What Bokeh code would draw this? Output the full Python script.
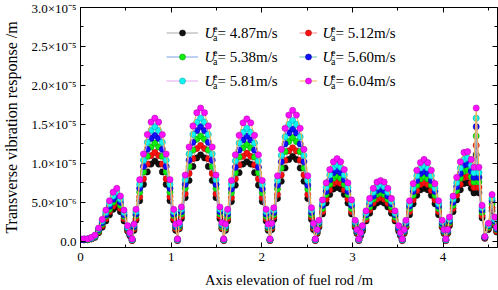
from bokeh.plotting import figure
from bokeh.models import (ColumnDataSource, Range1d, FixedTicker, LinearAxis,
                          Legend, LegendItem, Label)
from bokeh.embed import file_html
from bokeh.resources import INLINE

# ---------------- data (response in units of 1e-6 m) ----------------
x_pos = [0.00, 0.04, 0.08, 0.12,
         0.16, 0.20, 0.24, 0.28, 0.32, 0.36, 0.40, 0.44, 0.48, 0.52, 0.545,
         0.570,
         0.590, 0.612, 0.653, 0.695, 0.737, 0.778, 0.820, 0.862, 0.903, 0.945, 0.987, 1.028, 1.050, 1.070,
         1.090, 1.113, 1.155, 1.198, 1.240, 1.283, 1.325, 1.368, 1.410, 1.453, 1.495, 1.538, 1.560, 1.580,
         1.600, 1.623, 1.665, 1.708, 1.750, 1.793, 1.835, 1.878, 1.920, 1.963, 2.005, 2.048, 2.070, 2.090,
         2.110, 2.132, 2.173, 2.215, 2.257, 2.298, 2.340, 2.382, 2.423, 2.465, 2.507, 2.548, 2.570, 2.590,
         2.61, 2.63, 2.67, 2.71, 2.75, 2.79, 2.83, 2.87, 2.91, 2.95, 2.99, 3.03, 3.05, 3.07,
         3.09, 3.11, 3.15, 3.19, 3.23, 3.27, 3.31, 3.35, 3.39, 3.43, 3.47, 3.51, 3.53, 3.55,
         3.57, 3.59, 3.63, 3.67, 3.71, 3.75, 3.79, 3.83, 3.87, 3.91, 3.95, 3.99, 4.01, 4.03,
         4.05, 4.07, 4.11, 4.15, 4.19, 4.23, 4.27, 4.31, 4.34, 4.365, 4.395, 4.43, 4.46,
         4.50, 4.54, 4.57, 4.59]

u487 = [0.2, 0.2, 0.2, 0.3,
        0.5, 1.1, 1.8, 2.6, 3.4, 4.1, 4.4, 3.8, 2.6, 1.3, 0.7,
        0.1,
        1.4, 2.7, 5.2, 7.3, 8.9, 9.9, 10.3, 9.9, 8.9, 7.3, 5.2, 2.7, 1.4, 0.1,
        1.6, 2.9, 5.6, 7.8, 9.6, 10.7, 11.1, 10.7, 9.6, 7.8, 5.6, 2.9, 1.6, 0.1,
        1.4, 2.6, 5.1, 7.2, 8.8, 9.9, 10.2, 9.9, 8.8, 7.2, 5.1, 2.6, 1.4, 0.1,
        1.5, 2.8, 5.5, 7.7, 9.4, 10.5, 10.9, 10.5, 9.4, 7.7, 5.5, 2.8, 1.5, 0.1,
        1.0, 1.8, 3.5, 4.9, 6.0, 6.7, 6.9, 6.7, 6.0, 4.9, 3.5, 1.8, 1.0, 0.1,
        0.7, 1.3, 2.6, 3.6, 4.4, 4.9, 5.1, 4.9, 4.4, 3.6, 2.6, 1.3, 0.7, 0.1,
        1.0, 1.8, 3.4, 4.8, 5.9, 6.6, 6.8, 6.6, 5.9, 4.8, 3.4, 1.8, 1.0, 0.1,
        1.0, 2.0, 3.8, 5.3, 6.6, 7.4, 7.5, 6.8, 6.2, 11.1, 6.2, 3.0, 0.4, 1.5, 3.9, 2.0, 1.2]

u512 = [0.2, 0.2, 0.2, 0.3,
        0.6, 1.2, 2.0, 2.9, 3.8, 4.5, 4.9, 4.2, 2.9, 1.4, 0.8,
        0.1,
        1.6, 2.9, 5.7, 8.0, 9.9, 11.0, 11.4, 11.0, 9.9, 8.0, 5.7, 2.9, 1.6, 0.1,
        1.7, 3.2, 6.1, 8.7, 10.6, 11.9, 12.3, 11.9, 10.6, 8.7, 6.1, 3.2, 1.7, 0.1,
        1.6, 2.9, 5.6, 8.0, 9.8, 10.9, 11.3, 10.9, 9.8, 8.0, 5.6, 2.9, 1.6, 0.1,
        1.7, 3.1, 6.0, 8.5, 10.4, 11.6, 12.0, 11.6, 10.4, 8.5, 6.0, 3.1, 1.7, 0.1,
        1.1, 2.0, 3.8, 5.4, 6.6, 7.4, 7.6, 7.4, 6.6, 5.4, 3.8, 2.0, 1.1, 0.1,
        0.8, 1.5, 2.8, 4.0, 4.9, 5.4, 5.6, 5.4, 4.9, 4.0, 2.8, 1.5, 0.8, 0.1,
        1.1, 1.9, 3.8, 5.3, 6.5, 7.3, 7.5, 7.3, 6.5, 5.3, 3.8, 1.9, 1.1, 0.1,
        1.1, 2.2, 4.2, 5.9, 7.3, 8.2, 8.3, 7.5, 6.9, 12.3, 6.9, 3.3, 0.4, 1.7, 4.3, 2.2, 1.3]

u538 = [0.2, 0.2, 0.2, 0.4,
        0.6, 1.3, 2.2, 3.2, 4.1, 5.0, 5.4, 4.6, 3.2, 1.6, 0.9,
        0.2,
        1.8, 3.3, 6.3, 8.9, 10.9, 12.1, 12.6, 12.1, 10.9, 8.9, 6.3, 3.3, 1.8, 0.2,
        1.9, 3.5, 6.8, 9.6, 11.7, 13.1, 13.5, 13.1, 11.7, 9.6, 6.8, 3.5, 1.9, 0.2,
        1.7, 3.2, 6.2, 8.8, 10.8, 12.0, 12.4, 12.0, 10.8, 8.8, 6.2, 3.2, 1.7, 0.2,
        1.9, 3.4, 6.7, 9.4, 11.5, 12.8, 13.3, 12.8, 11.5, 9.4, 6.7, 3.4, 1.9, 0.2,
        1.2, 2.2, 4.2, 6.0, 7.3, 8.1, 8.4, 8.1, 7.3, 6.0, 4.2, 2.2, 1.2, 0.2,
        0.9, 1.6, 3.1, 4.4, 5.4, 6.0, 6.2, 6.0, 5.4, 4.4, 3.1, 1.6, 0.9, 0.2,
        1.2, 2.1, 4.2, 5.9, 7.2, 8.0, 8.3, 8.0, 7.2, 5.9, 4.2, 2.1, 1.2, 0.2,
        1.2, 2.4, 4.6, 6.5, 8.1, 9.0, 9.2, 8.3, 7.6, 13.5, 7.6, 3.7, 0.5, 1.8, 4.8, 2.4, 1.5]

u560 = [0.2, 0.2, 0.3, 0.4,
        0.7, 1.5, 2.4, 3.4, 4.5, 5.4, 5.8, 5.0, 3.4, 1.7, 0.9,
        0.2,
        1.9, 3.5, 6.8, 9.6, 11.8, 13.2, 13.6, 13.2, 11.8, 9.6, 6.8, 3.5, 1.9, 0.2,
        2.1, 3.8, 7.3, 10.4, 12.7, 14.2, 14.7, 14.2, 12.7, 10.4, 7.3, 3.8, 2.1, 0.2,
        1.9, 3.5, 6.7, 9.5, 11.7, 13.0, 13.5, 13.0, 11.7, 9.5, 6.7, 3.5, 1.9, 0.2,
        2.0, 3.7, 7.2, 10.2, 12.5, 13.9, 14.4, 13.9, 12.5, 10.2, 7.2, 3.7, 2.0, 0.2,
        1.3, 2.4, 4.6, 6.4, 7.9, 8.8, 9.1, 8.8, 7.9, 6.4, 4.6, 2.4, 1.3, 0.2,
        0.9, 1.7, 3.4, 4.8, 5.8, 6.5, 6.7, 6.5, 5.8, 4.8, 3.4, 1.7, 0.9, 0.2,
        1.3, 2.3, 4.5, 6.4, 7.8, 8.7, 9.0, 8.7, 7.8, 6.4, 4.5, 2.3, 1.3, 0.2,
        1.3, 2.6, 5.0, 7.0, 8.7, 9.8, 9.9, 9.0, 8.2, 14.7, 8.2, 4.0, 0.5, 2.0, 5.2, 2.6, 1.6]

u581 = [0.3, 0.3, 0.3, 0.4,
        0.7, 1.6, 2.6, 3.7, 4.8, 5.8, 6.3, 5.4, 3.7, 1.8, 1.0,
        0.2,
        2.1, 3.8, 7.3, 10.4, 12.7, 14.2, 14.7, 14.2, 12.7, 10.4, 7.3, 3.8, 2.1, 0.2,
        2.2, 4.1, 7.9, 11.2, 13.7, 15.3, 15.8, 15.3, 13.7, 11.2, 7.9, 4.1, 2.2, 0.2,
        2.0, 3.8, 7.3, 10.3, 12.6, 14.0, 14.5, 14.0, 12.6, 10.3, 7.3, 3.8, 2.0, 0.2,
        2.2, 4.0, 7.8, 11.0, 13.4, 15.0, 15.5, 15.0, 13.4, 11.0, 7.8, 4.0, 2.2, 0.2,
        1.4, 2.5, 4.9, 6.9, 8.5, 9.5, 9.8, 9.5, 8.5, 6.9, 4.9, 2.5, 1.4, 0.2,
        1.0, 1.9, 3.6, 5.1, 6.3, 7.0, 7.3, 7.0, 6.3, 5.1, 3.6, 1.9, 1.0, 0.2,
        1.4, 2.5, 4.8, 6.8, 8.4, 9.4, 9.7, 9.4, 8.4, 6.8, 4.8, 2.5, 1.4, 0.2,
        1.4, 2.8, 5.4, 7.5, 9.4, 10.5, 10.7, 9.7, 8.8, 15.8, 8.8, 4.3, 0.6, 2.1, 5.5, 2.8, 1.7]

u604 = [0.3, 0.3, 0.3, 0.5,
        0.8, 1.7, 2.8, 4.0, 5.2, 6.3, 6.8, 5.8, 4.0, 2.0, 1.1,
        0.3,
        2.2, 4.1, 7.9, 11.2, 13.7, 15.3, 15.8, 15.3, 13.7, 11.2, 7.9, 4.1, 2.2, 0.3,
        2.4, 4.4, 8.5, 12.1, 14.8, 16.5, 17.1, 16.5, 14.8, 12.1, 8.5, 4.4, 2.4, 0.3,
        2.2, 4.1, 7.8, 11.1, 13.6, 15.2, 15.7, 15.2, 13.6, 11.1, 7.8, 4.1, 2.2, 0.3,
        2.3, 4.3, 8.4, 11.8, 14.5, 16.2, 16.8, 16.2, 14.5, 11.8, 8.4, 4.3, 2.3, 0.3,
        1.5, 2.7, 5.3, 7.5, 9.2, 10.2, 10.6, 10.2, 9.2, 7.5, 5.3, 2.7, 1.5, 0.3,
        1.1, 2.0, 3.9, 5.5, 6.8, 7.6, 7.8, 7.6, 6.8, 5.5, 3.9, 2.0, 1.1, 0.3,
        1.5, 2.7, 5.2, 7.4, 9.1, 10.1, 10.5, 10.1, 9.1, 7.4, 5.2, 2.7, 1.5, 0.3,
        1.5, 3.1, 5.8, 8.2, 10.2, 11.4, 11.5, 10.5, 9.5, 17.1, 9.5, 4.6, 0.6, 2.3, 6.0, 3.1, 1.8]

series_names = ["u487", "u512", "u538", "u560", "u581", "u604"]
series_values = [u487, u512, u538, u560, u581, u604]
series_labels = ["4.87", "5.12", "5.38", "5.60", "5.81", "6.04"]

x_ticks = [0, 1, 2, 3, 4]
x_minor = [0.5, 1.5, 2.5, 3.5, 4.5]
y_ticks = [0.0, 5.0, 10.0, 15.0, 20.0, 25.0, 30.0]
y_minor = [2.5, 7.5, 12.5, 17.5, 22.5, 27.5]
y_tick_labels = ["0.0", "5.0\u00d710\u207b\u2076", "1.0\u00d710\u207b\u2075",
                 "1.5\u00d710\u207b\u2075", "2.0\u00d710\u207b\u2075",
                 "2.5\u00d710\u207b\u2075", "3.0\u00d710\u207b\u2075"]

# ---------------- styles ----------------
FONT = "Liberation Serif"
line_colors = ["#a8a8a8", "#f29090", "#7aa4e6", "#66c4a4", "#e4a4ec", "#f2b248"]
fill_colors = ["#111111", "#ff1010", "#10f010", "#1010ff", "#10f4f4", "#ff10ff"]
edge_colors = ["#000000", "#a00000", "#008a00", "#000090", "#009a9a", "#a000a0"]

src = ColumnDataSource(dict(x=x_pos, **{n: v for n, v in zip(series_names, series_values)}))

p = figure(width=498, height=290, output_backend="svg", toolbar_location=None,
           x_range=Range1d(0, 4.6), y_range=Range1d(-0.8, 30.0),
           min_border_left=76, min_border_right=1, min_border_top=7, min_border_bottom=42,
           background_fill_color="white", border_fill_color="white")
p.xgrid.visible = False
p.ygrid.visible = False
p.outline_line_color = "black"
p.outline_line_width = 1

lines, dots = [], []
for i, n in enumerate(series_names):
    lr = p.line("x", n, source=src, line_color=line_colors[i], line_width=1)
    sr = p.scatter("x", n, source=src, marker="circle", size=6.2,
                   fill_color=fill_colors[i], line_color=edge_colors[i], line_width=0.5)
    lines.append(lr)
    dots.append(sr)

# axes
def style_axis(ax, ticks, minor, show_labels):
    ax.ticker = FixedTicker(ticks=ticks, minor_ticks=minor)
    ax.major_tick_in = 5
    ax.major_tick_out = 0
    ax.minor_tick_in = 3
    ax.minor_tick_out = 0
    ax.axis_line_color = "black"
    ax.major_tick_line_color = "black"
    ax.minor_tick_line_color = "black"
    if show_labels:
        ax.major_label_text_font = FONT
        ax.major_label_text_font_size = "13px"
        ax.major_label_text_color = "black"
        ax.axis_label_text_font = FONT
        ax.axis_label_text_font_style = "normal"
        ax.axis_label_text_color = "black"
    else:
        ax.major_label_text_font_size = "0px"
        ax.major_label_text_color = None
        ax.major_label_standoff = 0

xa = p.xaxis[0]
style_axis(xa, x_ticks, x_minor, True)
xa.axis_label = "Axis elevation of fuel rod /m"
xa.axis_label_text_font_size = "14.5px"
xa.major_label_standoff = 5
xa.axis_label_standoff = 8

ya = p.yaxis[0]
style_axis(ya, y_ticks, y_minor, True)
ya.axis_label = "Transverse vibration response /m"
ya.axis_label_text_font_size = "16px"
ya.major_label_standoff = 4
ya.axis_label_standoff = 8
ya.major_label_overrides = {t: s for t, s in zip(y_ticks, y_tick_labels)}

top_ax = LinearAxis()
style_axis(top_ax, x_ticks, x_minor, False)
p.add_layout(top_ax, "above")
right_ax = LinearAxis()
style_axis(right_ax, y_ticks, y_minor, False)
p.add_layout(right_ax, "right")

# legend: glyph samples from Bokeh legends, text as labels
leg_cols = [[0, 2, 4], [1, 3, 5]]
leg_x = [86, 219]
leg_gw = [32, 18]
for c in range(2):
    items = [LegendItem(label=" ", renderers=[lines[i], dots[i]]) for i in leg_cols[c]]
    lg = Legend(items=items, location=(leg_x[c], 159.5), glyph_width=leg_gw[c],
                glyph_height=15, label_height=15, spacing=9, padding=0, margin=0,
                label_standoff=0, label_text_font_size="1px", label_text_color=None,
                border_line_color=None, background_fill_alpha=0)
    p.add_layout(lg)

u_x = [124, 242]
for c in range(2):
    for r, i in enumerate(leg_cols[c]):
        yc = 215 - 24 * r
        p.add_layout(Label(x=u_x[c], y=yc, x_units="screen", y_units="screen", text="U",
                           text_font=FONT, text_font_style="italic", text_font_size="15px",
                           text_baseline="middle", text_align="left", text_color="black"))
        p.add_layout(Label(x=u_x[c] + 8.5, y=yc + 4, x_units="screen", y_units="screen", text="e",
                           text_font=FONT, text_font_size="10px",
                           text_baseline="middle", text_align="left", text_color="black"))
        p.add_layout(Label(x=u_x[c] + 8.5, y=yc - 5, x_units="screen", y_units="screen", text="a",
                           text_font=FONT, text_font_size="10px",
                           text_baseline="middle", text_align="left", text_color="black"))
        p.add_layout(Label(x=u_x[c] + 13, y=yc, x_units="screen", y_units="screen",
                           text="= " + series_labels[i] + "m/s",
                           text_font=FONT, text_font_size="15px",
                           text_baseline="middle", text_align="left", text_color="black"))

open("out.html", "w").write(file_html(p, INLINE))
